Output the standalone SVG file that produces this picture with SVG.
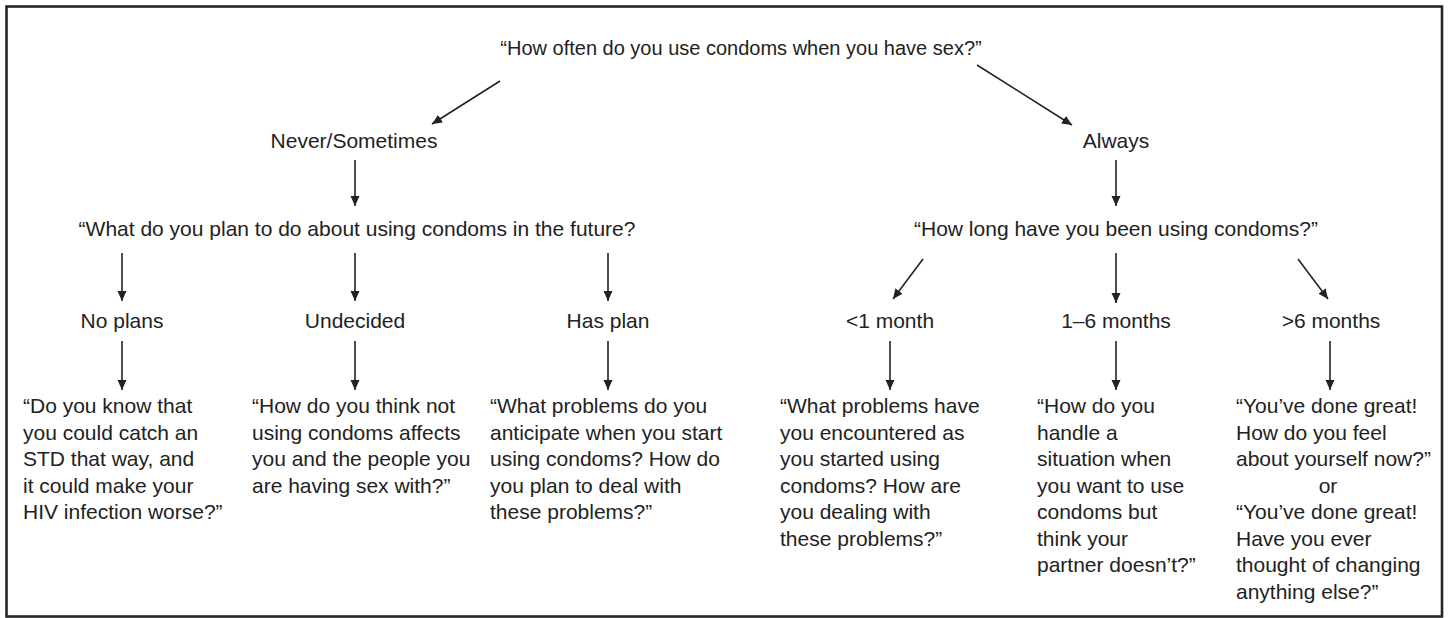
<svg xmlns="http://www.w3.org/2000/svg" width="1449" height="618" viewBox="0 0 1449 618">
<style>
text{font-family:"Liberation Sans",Arial,sans-serif;font-size:21px;fill:#222}
.c{text-anchor:middle}
.e line{stroke:#222;stroke-width:1.6;fill:none}
</style>
<defs>
<marker id="ah" viewBox="0 0 10 10" refX="10" refY="5" markerWidth="10" markerHeight="10" markerUnits="userSpaceOnUse" orient="auto">
<path d="M0,0.5 L10,5 L0,9.5 Z" fill="#222"/>
</marker>
</defs>
<rect x="6.5" y="6.5" width="1435.5" height="610" fill="#fff" stroke="#262626" stroke-width="2.6"/>
<g class="e" id="connectors">
<line x1="500" y1="81" x2="432" y2="124" marker-end="url(#ah)"/>
<line x1="977" y1="65" x2="1072" y2="125" marker-end="url(#ah)"/>
<line x1="355" y1="160" x2="355" y2="206" marker-end="url(#ah)"/>
<line x1="1116" y1="160" x2="1116" y2="206" marker-end="url(#ah)"/>
<line x1="122" y1="253" x2="122" y2="301" marker-end="url(#ah)"/>
<line x1="355" y1="253" x2="355" y2="301" marker-end="url(#ah)"/>
<line x1="608" y1="253" x2="608" y2="301" marker-end="url(#ah)"/>
<line x1="923" y1="259" x2="893" y2="299" marker-end="url(#ah)"/>
<line x1="1116" y1="253" x2="1116" y2="303" marker-end="url(#ah)"/>
<line x1="1298" y1="259" x2="1328" y2="299" marker-end="url(#ah)"/>
<line x1="122" y1="341" x2="122" y2="390" marker-end="url(#ah)"/>
<line x1="355" y1="341" x2="355" y2="390" marker-end="url(#ah)"/>
<line x1="608" y1="341" x2="608" y2="390" marker-end="url(#ah)"/>
<line x1="890" y1="341" x2="890" y2="390" marker-end="url(#ah)"/>
<line x1="1116" y1="341" x2="1116" y2="390" marker-end="url(#ah)"/>
<line x1="1330" y1="341" x2="1330" y2="390" marker-end="url(#ah)"/>
</g>
<g id="q-root"><text class="c" x="741" y="55" style="font-size:20px">“How often do you use condoms when you have sex?”</text></g>
<g id="never"><text class="c" x="354" y="148">Never/Sometimes</text></g>
<g id="always"><text class="c" x="1116" y="148">Always</text></g>
<g id="q-plan"><text class="c" x="357" y="236">“What do you plan to do about using condoms in the future?</text></g>
<g id="q-long"><text class="c" x="1116" y="236">“How long have you been using condoms?”</text></g>
<g id="noplans"><text class="c" x="122" y="328">No plans</text></g>
<g id="undecided"><text class="c" x="355" y="328">Undecided</text></g>
<g id="hasplan"><text class="c" x="608" y="328">Has plan</text></g>
<g id="lt1"><text class="c" x="890" y="328">&lt;1 month</text></g>
<g id="m16"><text class="c" x="1116" y="328">1–6 months</text></g>
<g id="gt6"><text class="c" x="1331" y="328">&gt;6 months</text></g>
<g id="r-noplans"><text x="23" y="413"><tspan x="23">“Do you know that</tspan><tspan x="23" dy="26.5">you could catch an</tspan><tspan x="23" dy="26.5">STD that way, and</tspan><tspan x="23" dy="26.5">it could make your</tspan><tspan x="23" dy="26.5">HIV infection worse?”</tspan></text></g>
<g id="r-undecided"><text x="252" y="413"><tspan x="252">“How do you think not</tspan><tspan x="252" dy="26.5">using condoms affects</tspan><tspan x="252" dy="26.5">you and the people you</tspan><tspan x="252" dy="26.5">are having sex with?”</tspan></text></g>
<g id="r-hasplan"><text x="490" y="413"><tspan x="490">“What problems do you</tspan><tspan x="490" dy="26.5">anticipate when you start</tspan><tspan x="490" dy="26.5">using condoms? How do</tspan><tspan x="490" dy="26.5">you plan to deal with</tspan><tspan x="490" dy="26.5">these problems?”</tspan></text></g>
<g id="r-lt1"><text x="780" y="413"><tspan x="780">“What problems have</tspan><tspan x="780" dy="26.5">you encountered as</tspan><tspan x="780" dy="26.5">you started using</tspan><tspan x="780" dy="26.5">condoms? How are</tspan><tspan x="780" dy="26.5">you dealing with</tspan><tspan x="780" dy="26.5">these problems?”</tspan></text></g>
<g id="r-m16"><text x="1037" y="413"><tspan x="1037">“How do you</tspan><tspan x="1037" dy="26.5">handle a</tspan><tspan x="1037" dy="26.5">situation when</tspan><tspan x="1037" dy="26.5">you want to use</tspan><tspan x="1037" dy="26.5">condoms but</tspan><tspan x="1037" dy="26.5">think your</tspan><tspan x="1037" dy="26.5">partner doesn’t?”</tspan></text></g>
<g id="r-gt6"><text x="1236" y="413"><tspan x="1236">“You’ve done great!</tspan><tspan x="1236" dy="26.5">How do you feel</tspan><tspan x="1236" dy="26.5">about yourself now?”</tspan><tspan x="1328" dy="26.5" text-anchor="middle">or</tspan><tspan x="1236" dy="26.5">“You’ve done great!</tspan><tspan x="1236" dy="26.5">Have you ever</tspan><tspan x="1236" dy="26.5">thought of changing</tspan><tspan x="1236" dy="26.5">anything else?”</tspan></text></g>
</svg>
